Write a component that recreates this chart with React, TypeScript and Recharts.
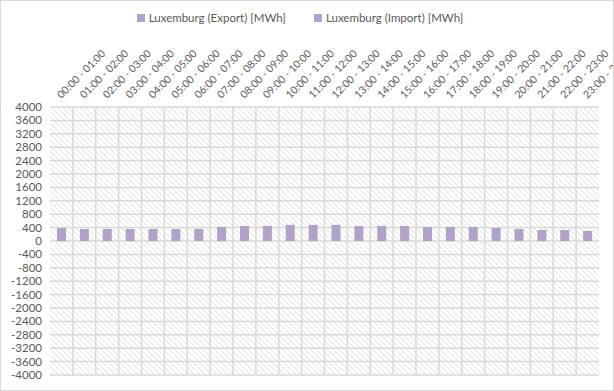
import React from 'react';
import { BarChart, Bar, XAxis, YAxis, CartesianGrid, Legend } from 'recharts';

const hours = [
  '00:00 - 01:00', '01:00 - 02:00', '02:00 - 03:00', '03:00 - 04:00', '04:00 - 05:00', '05:00 - 06:00',
  '06:00 - 07:00', '07:00 - 08:00', '08:00 - 09:00', '09:00 - 10:00', '10:00 - 11:00', '11:00 - 12:00',
  '12:00 - 13:00', '13:00 - 14:00', '14:00 - 15:00', '15:00 - 16:00', '16:00 - 17:00', '17:00 - 18:00',
  '18:00 - 19:00', '19:00 - 20:00', '20:00 - 21:00', '21:00 - 22:00', '22:00 - 23:00', '23:00 - 24:00',
];
const exportMWh = [390, 360, 360, 360, 360, 360, 360, 420, 450, 450, 480, 480, 480, 450, 450, 450, 420, 420, 420, 390, 360, 330, 330, 300];
const importMWh = [0, 0, 0, 0, 0, 0, 0, 0, 0, 0, 0, 0, 0, 0, 0, 0, 0, 0, 0, 0, 0, 0, 0, 0];
const yTicks = [-4000, -3600, -3200, -2800, -2400, -2000, -1600, -1200, -800, -400, 0, 400, 800, 1200, 1600, 2000, 2400, 2800, 3200, 3600, 4000];
const seriesNames = ['Luxemburg (Export) [MWh]', 'Luxemburg (Import) [MWh]'];

const data = hours.map((h, i) => ({ hour: h, exp: exportMWh[i], imp: importMWh[i] }));

const FONT = 'Lato, "Open Sans", sans-serif';
const TEXT = '#595959';
const GRID = '#d9d9d9';
const BAR = '#b3a2c7';

const HourTick = ({ x, y, payload }: any) => (
  <text x={x} y={y} transform={`rotate(-45, ${x}, ${y})`} textAnchor="start" fontSize={10.5} fill={TEXT} fontFamily={FONT}>
    {payload.value}
  </text>
);

const LegendBox = () => (
  <div style={{ display: 'flex', justifyContent: 'center', gap: 28, fontFamily: FONT, fontSize: 11.5, color: TEXT }}>
    {seriesNames.map((n) => (
      <div key={n} style={{ display: 'flex', alignItems: 'center' }}>
        <span style={{ width: 8, height: 8, background: BAR, display: 'inline-block', marginRight: 4 }} />
        {n}
      </div>
    ))}
  </div>
);

export default function App() {
  return (
    <div style={{ position: 'absolute', left: 0, top: 0, width: 614, height: 391, boxSizing: 'border-box', border: '1px solid #d9d9d9', background: '#fff' }}>
      <BarChart width={612} height={389} data={data} margin={{ top: 0, right: 14, bottom: 15, left: 0 }} barSize={9}>
        <defs>
          <pattern id="hatch" patternUnits="userSpaceOnUse" width={4} height={4} patternTransform="rotate(-45)">
            <rect width={4} height={4} fill="#fff" />
            <line x1={0} y1={0} x2={0} y2={4} stroke="#dadada" strokeWidth={1.4} />
          </pattern>
        </defs>
        <Legend verticalAlign="top" height={30} content={LegendBox} wrapperStyle={{ top: 10 }} />
        <CartesianGrid
          fill="url(#hatch)"
          stroke={GRID}
          strokeWidth={1.5}
          verticalCoordinatesGenerator={({ offset }: any) =>
            hours.map((_, i) => offset.left + (i * offset.width) / hours.length).slice(1)}
        />
        <XAxis dataKey="hour" orientation="top" interval={0} height={76} axisLine={false} tickLine={false} tickSize={0} tickMargin={8} tick={<HourTick />} />
        <YAxis domain={[-4000, 4000]} ticks={yTicks} interval={0} width={49} axisLine={false} tickLine={false} tickSize={0} tickMargin={8}
          tick={{ fontSize: 11.5, fill: TEXT, fontFamily: FONT }} />
        <Bar dataKey="exp" stackId="s" fill={BAR} isAnimationActive={false} />
        <Bar dataKey="imp" stackId="s" fill={BAR} isAnimationActive={false} />
      </BarChart>
    </div>
  );
}
